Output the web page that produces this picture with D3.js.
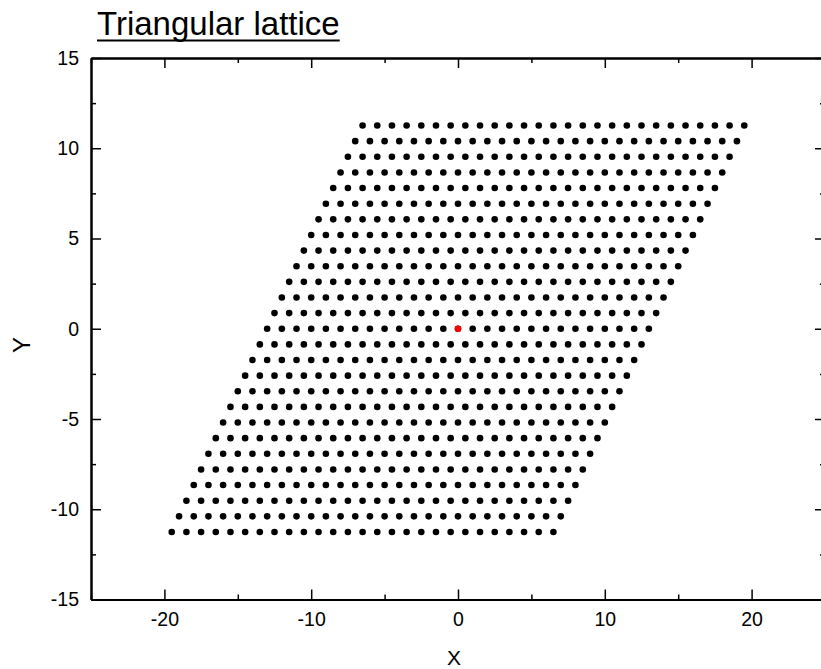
<!DOCTYPE html>
<html>
<head>
<meta charset="utf-8">
<script src="https://cdn.jsdelivr.net/npm/d3@7/dist/d3.min.js"></script>
<style>
  html, body { margin: 0; padding: 0; background: #fff; overflow: hidden; }
  svg { display: block; font-family: "Liberation Sans", Arial, sans-serif; }
</style>
</head>
<body>
<svg id="chart" width="821" height="669"></svg>
<script>
// Lattice site indices along each primitive vector (n1, n2 = -13 … 13)
const siteIndices = [-13, -12, -11, -10, -9, -8, -7, -6, -5, -4, -3, -2, -1, 0,
                     1, 2, 3, 4, 5, 6, 7, 8, 9, 10, 11, 12, 13];
// Primitive vectors of the triangular lattice
const basisA1 = [1, 0];
const basisA2 = [0.5, 0.866];
// Highlighted reference site
const originSite = [0, 0];

// Axis ticks
const xMajorTicks = [-20, -10, 0, 10, 20];
const xMinorTicks = [-25, -15, -5, 5, 15, 25];
const yMajorTicks = [-15, -10, -5, 0, 5, 10, 15];
const yMinorTicks = [-12.5, -7.5, -2.5, 2.5, 7.5, 12.5];

// Build the lattice sites from the index lists and the basis
const sites = [];
siteIndices.forEach(n2 => {
  siteIndices.forEach(n1 => {
    sites.push({
      x: n1 * basisA1[0] + n2 * basisA2[0],
      y: n1 * basisA1[1] + n2 * basisA2[1]
    });
  });
});

const svg = d3.select("#chart");
const plotLeft = 91, plotRight = 825, plotTop = 58, plotBottom = 599.5;

const x = d3.scaleLinear().domain([-25, 25]).range([plotLeft, plotRight]);
const y = d3.scaleLinear().domain([-15, 15]).range([plotBottom, plotTop]);

// Points
svg.append("g")
  .selectAll("circle")
  .data(sites)
  .join("circle")
  .attr("cx", d => x(d.x))
  .attr("cy", d => y(d.y))
  .attr("r", 3.3)
  .attr("fill", "#000");

svg.append("circle")
  .attr("cx", x(originSite[0]))
  .attr("cy", y(originSite[1]))
  .attr("r", 3.3)
  .attr("fill", "#ff0000");

// Plain hyphen-minus labels
const plainLabel = d => String(d);

// Axes with inward ticks on all four sides
function styleAxis(g) {
  g.selectAll(".domain").attr("stroke", "#000").attr("stroke-width", 2);
  g.selectAll(".tick line").attr("stroke", "#000").attr("stroke-width", 1.5);
  g.selectAll(".tick text").attr("fill", "#000").attr("font-size", 19.5)
    .attr("font-family", "'Liberation Sans', Arial, sans-serif");
}

// bottom
svg.append("g").attr("transform", `translate(0,${plotBottom})`)
  .call(d3.axisBottom(x).tickValues(xMajorTicks).tickSize(-10).tickSizeOuter(0)
    .tickPadding(13).tickFormat(plainLabel))
  .call(styleAxis);
svg.append("g").attr("transform", `translate(0,${plotBottom})`)
  .call(d3.axisBottom(x).tickValues(xMinorTicks).tickSize(-5).tickSizeOuter(0).tickFormat(""))
  .call(styleAxis);
// top
svg.append("g").attr("transform", `translate(0,${plotTop})`)
  .call(d3.axisTop(x).tickValues(xMajorTicks).tickSize(-10).tickSizeOuter(0).tickFormat(""))
  .call(styleAxis);
svg.append("g").attr("transform", `translate(0,${plotTop})`)
  .call(d3.axisTop(x).tickValues(xMinorTicks).tickSize(-5).tickSizeOuter(0).tickFormat(""))
  .call(styleAxis);
// left
svg.append("g").attr("transform", `translate(${plotLeft},0)`)
  .call(d3.axisLeft(y).tickValues(yMajorTicks).tickSize(-10).tickSizeOuter(0)
    .tickPadding(12).tickFormat(plainLabel))
  .call(styleAxis);
svg.append("g").attr("transform", `translate(${plotLeft},0)`)
  .call(d3.axisLeft(y).tickValues(yMinorTicks).tickSize(-5).tickSizeOuter(0).tickFormat(""))
  .call(styleAxis);
// right
svg.append("g").attr("transform", `translate(${plotRight},0)`)
  .call(d3.axisRight(y).tickValues(yMajorTicks).tickSize(-10).tickSizeOuter(0).tickFormat(""))
  .call(styleAxis);
svg.append("g").attr("transform", `translate(${plotRight},0)`)
  .call(d3.axisRight(y).tickValues(yMinorTicks).tickSize(-5).tickSizeOuter(0).tickFormat(""))
  .call(styleAxis);

// Title with a drawn underline
const title = svg.append("text")
  .attr("x", 97).attr("y", 35)
  .attr("font-size", 33)
  .attr("fill", "#000")
  .text("Triangular lattice");
const titleWidth = title.node().getComputedTextLength();
svg.append("line")
  .attr("x1", 97).attr("x2", 97 + titleWidth)
  .attr("y1", 40.5).attr("y2", 40.5)
  .attr("stroke", "#000").attr("stroke-width", 2);

// Axis titles
svg.append("text")
  .attr("x", 454).attr("y", 665)
  .attr("text-anchor", "middle")
  .attr("font-size", 21)
  .attr("fill", "#000")
  .text("X");

svg.append("text")
  .attr("transform", "translate(30,345) rotate(-90)")
  .attr("text-anchor", "middle")
  .attr("font-size", 24)
  .attr("fill", "#000")
  .text("Y");
</script>
</body>
</html>
